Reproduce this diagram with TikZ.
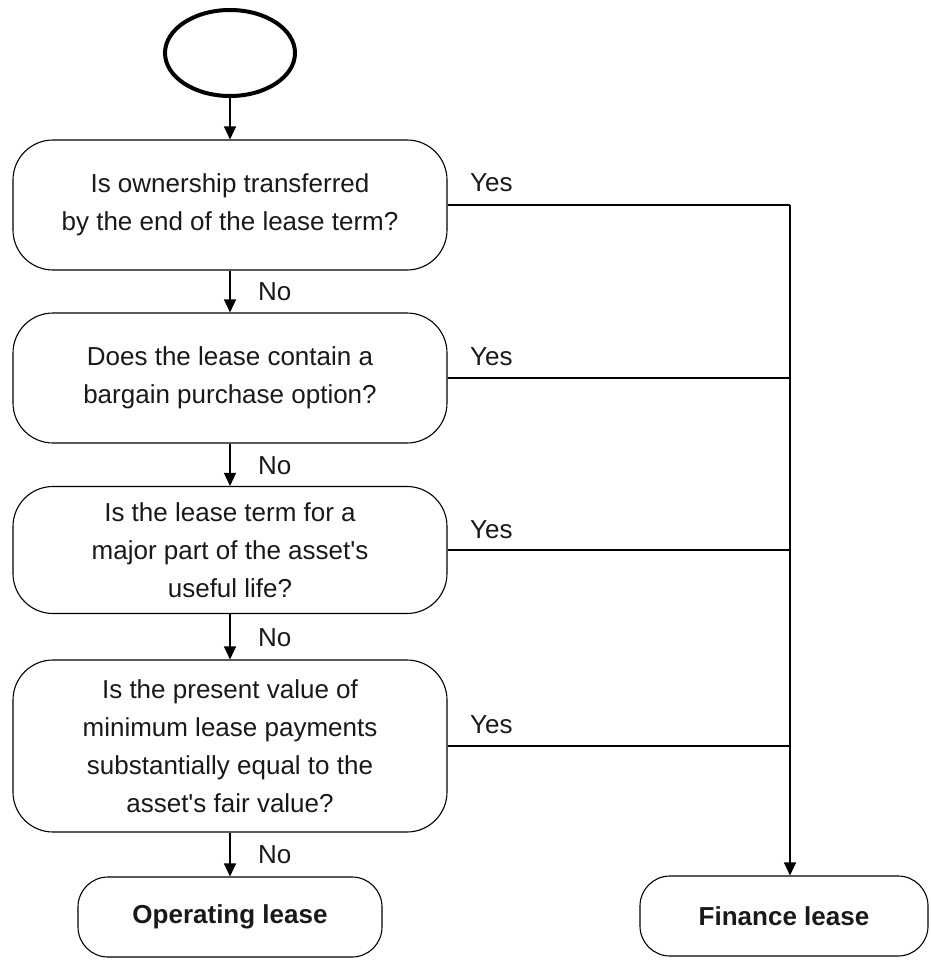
\documentclass[tikz,border=0pt]{standalone}
\usepackage{fontspec}
\setmainfont{Liberation Sans}
\usetikzlibrary{shapes.geometric,arrows.meta}
\begin{document}
\begin{tikzpicture}[x=1pt,y=-1pt,
  box/.style={draw, line width=1.1pt, rounded corners=40pt, align=center,
    font=\fontsize{26}{38}\selectfont, text=black!90, inner sep=0pt, minimum width=434pt},
  endbox/.style={draw, line width=1.1pt, rounded corners=30pt,
    font=\bfseries\fontsize{26}{38}\selectfont, text=black!90, minimum height=80pt},
  arr/.style={-{Triangle[length=13pt,width=12pt]}, line width=1.5pt},
  ln/.style={line width=1.5pt},
  lbl/.style={font=\fontsize{26}{30}\selectfont, text=black!90, anchor=west, inner sep=0pt}]
\useasboundingbox (0,0) rectangle (930,960);

\node[ellipse, draw, line width=4pt, minimum width=130pt, minimum height=86pt] (start) at (230,53) {};

\node[box, minimum height=130pt] (q1) at (230,205) {Is ownership transferred\\by the end of the lease term?};
\node[box, minimum height=130pt] (q2) at (230,378) {Does the lease contain a\\bargain purchase option?};
\node[box, minimum height=127pt] (q3) at (230,550) {Is the lease term for a\\major part of the asset\textquotesingle s\\useful life?};
\node[box, minimum height=172pt] (q4) at (230,746) {Is the present value of\\minimum lease payments\\substantially equal to the\\asset\textquotesingle s fair value?};

\node[endbox, minimum width=304pt] (op) at (230,917) {Operating lease};
\node[endbox, minimum width=288pt] (fin) at (784,916) {Finance lease};

\draw[arr] (start) -- (q1);
\draw[arr] (q1) -- (q2);
\draw[arr] (q2) -- (q3);
\draw[arr] (q3) -- (q4);
\draw[arr] (q4) -- (op);

\node[lbl] (no1) at (258,292) {No};
\node[lbl] (no2) at (258,466) {No};
\node[lbl] (no3) at (258,638) {No};
\node[lbl] (no4) at (258,855) {No};

\coordinate (j1) at (790,205);
\draw[ln] (q1.east) -- (j1);
\draw[ln] (q2.east) -- (q2.east -| j1);
\draw[ln] (q3.east) -- (q3.east -| j1);
\draw[ln] (q4.east) -- (q4.east -| j1);
\draw[arr] (j1) -- (j1 |- fin.north);

\node[lbl] (y1) at (470,183) {Yes};
\node[lbl] (y2) at (470,357) {Yes};
\node[lbl] (y3) at (470,530) {Yes};
\node[lbl] (y4) at (470,725) {Yes};
\end{tikzpicture}
\end{document}
